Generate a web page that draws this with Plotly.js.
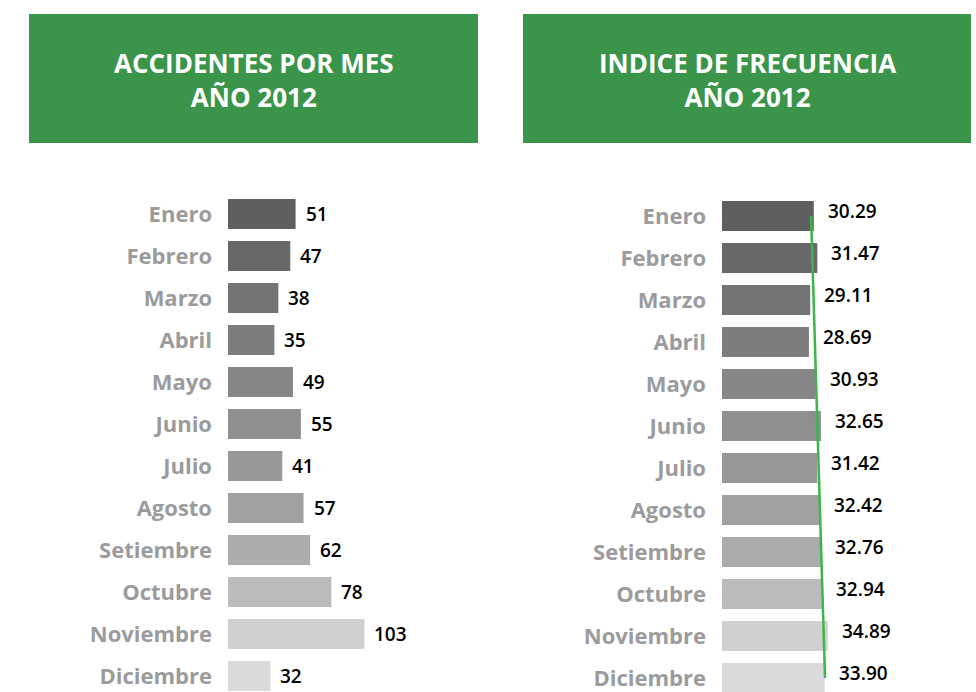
<!DOCTYPE html>
<html>
<head>
<meta charset="utf-8">
<script src="https://cdn.plot.ly/plotly-3.0.1.min.js"></script>
<style>html,body{margin:0;padding:0;background:#fff;}#chart{width:976px;height:692px;}</style>
</head>
<body>
<div id="chart"></div>
<script>
// ---- data ----
const months = ['Enero','Febrero','Marzo','Abril','Mayo','Junio','Julio','Agosto','Setiembre','Octubre','Noviembre','Diciembre'];
const accidents = [51, 47, 38, 35, 49, 55, 41, 57, 62, 78, 103, 32];
const frequency = [30.29, 31.47, 29.11, 28.69, 30.93, 32.65, 31.42, 32.42, 32.76, 32.94, 34.89, 33.90];
const trendMonths = ['Enero', 'Diciembre'];
const trendValues = [29.4, 34.0];
const accidentLabels = ['51','47','38','35','49','55','41','57','62','78','103','32'];
const frequencyLabels = ['30.29','31.47','29.11','28.69','30.93','32.65','31.42','32.42','32.76','32.94','34.89','33.90'];
const titleLeft = 'ACCIDENTES POR MES<br>AÑO 2012';
const titleRight = 'INDICE DE FRECUENCIA<br>AÑO 2012';

// ---- styles ----
const W = 976, H = 692;
const px = v => v / W;
const py = v => 1 - v / H;
const barColors = ['#5f5f61','#68686a','#747477','#7d7d80','#868689','#8f8f92','#98989b','#a1a1a4','#abacae','#bbbbbd','#d0d0d2','#dadadc'];
const green = '#3a9449';
const fontFam = '"Open Sans", "Noto Sans", sans-serif';
const tickFont = {family: fontFam, size: 22, color: '#9b9b9d', weight: 700};
const valFont = {family: fontFam, size: 19, color: '#000000', weight: 600};

const traces = [
  {type: 'bar', orientation: 'h', x: accidents, y: months, xaxis: 'x', yaxis: 'y',
   marker: {color: barColors}, hoverinfo: 'skip'},
  {type: 'bar', orientation: 'h', x: frequency, y: months, xaxis: 'x2', yaxis: 'y2',
   marker: {color: barColors}, hoverinfo: 'skip'},
  {type: 'scatter', mode: 'lines', x: trendValues, y: trendMonths, xaxis: 'x2', yaxis: 'y2',
   line: {color: '#3db54a', width: 2.5}, hoverinfo: 'skip'}
];

const annotations = [];
months.forEach((m, i) => {
  annotations.push({x: accidents[i], y: m, xref: 'x', yref: 'y', text: accidentLabels[i],
    showarrow: false, xanchor: 'left', yanchor: 'middle', xshift: 8, font: valFont});
  annotations.push({x: frequency[i], y: m, xref: 'x2', yref: 'y2', text: frequencyLabels[i],
    showarrow: false, xanchor: 'left', yanchor: 'middle', xshift: 12, yshift: 5, font: valFont});
});
const titleFont = {family: fontFam, size: 26, color: '#ffffff', weight: 700};
annotations.push({x: px(254), y: py(80), xref: 'paper', yref: 'paper', text: titleLeft, showarrow: false,
  xanchor: 'center', yanchor: 'middle', font: titleFont, align: 'center'});
annotations.push({x: px(747), y: py(80), xref: 'paper', yref: 'paper', text: titleRight, showarrow: false,
  xanchor: 'center', yanchor: 'middle', font: titleFont, align: 'center'});

const hiddenX = {showgrid: false, zeroline: false, showticklabels: false, ticks: '', showline: false, fixedrange: true};
const catY = {type: 'category', showgrid: false, zeroline: false, ticks: '', showline: false,
  tickfont: tickFont, ticklabelstandoff: 15, fixedrange: true};

const layout = {
  width: W, height: H,
  margin: {l: 0, r: 0, t: 0, b: 0},
  paper_bgcolor: '#ffffff', plot_bgcolor: 'rgba(0,0,0,0)',
  showlegend: false,
  bargap: 0.286,
  hovermode: false,
  xaxis: Object.assign({}, hiddenX, {domain: [px(228), px(478)], range: [0, 250 / 1.325], anchor: 'y'}),
  yaxis: Object.assign({}, catY, {domain: [0, py(193)], range: [11.381, -0.5], anchor: 'x'}),
  xaxis2: Object.assign({}, hiddenX, {domain: [px(722), px(971)], range: [0, 249 / 3.03], anchor: 'y2'}),
  yaxis2: Object.assign({}, catY, {domain: [0, py(195)], range: [11.333, -0.5], anchor: 'x2'}),
  shapes: [
    {type: 'rect', xref: 'paper', yref: 'paper', x0: px(29), x1: px(478), y0: py(143), y1: py(14),
     fillcolor: green, line: {width: 0}, layer: 'below'},
    {type: 'rect', xref: 'paper', yref: 'paper', x0: px(523), x1: px(971), y0: py(143), y1: py(14),
     fillcolor: green, line: {width: 0}, layer: 'below'}
  ],
  annotations: annotations
};

Plotly.newPlot('chart', traces, layout, {displayModeBar: false, staticPlot: true});
</script>
</body>
</html>
